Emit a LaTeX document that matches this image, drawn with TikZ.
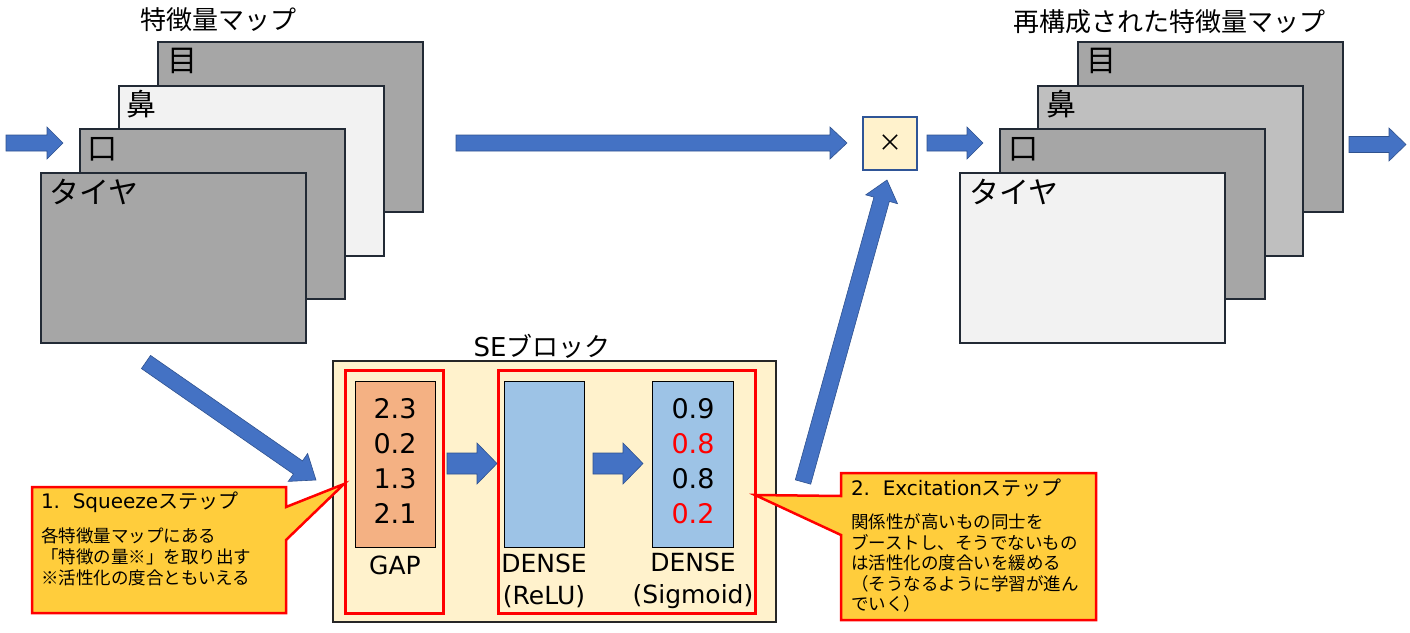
\documentclass[tikz,border=0pt]{standalone}
\usepackage{fontspec}
\setmainfont{Noto Sans CJK JP}
\newfontfamily\lat{DejaVu Sans}
\usetikzlibrary{calc}
\definecolor{arrowblue}{HTML}{4472C4}
\definecolor{arrowedge}{HTML}{2F528F}
\definecolor{mapgray}{HTML}{A6A6A6}
\definecolor{maplight}{HTML}{F2F2F2}
\definecolor{mapmid}{HTML}{BFBFBF}
\definecolor{mapborder}{HTML}{222A35}
\definecolor{cream}{HTML}{FFF2CC}
\definecolor{gapfill}{HTML}{F4B183}
\definecolor{densefill}{HTML}{9DC3E6}
\definecolor{calloutfill}{HTML}{FFCD3C}
\definecolor{xborder}{HTML}{2F5597}
\definecolor{redline}{HTML}{FF0000}
\newcommand{\barrow}[5]{%
  \coordinate (bahead) at ($(#2)!#5!(#1)$);
  \filldraw[blockarrow] ($(#1)!#3!90:(#2)$) -- ($(bahead)!#3!90:(#2)$) -- ($(bahead)!#4!90:(#2)$) -- (#2) -- ($(bahead)!#4!-90:(#2)$) -- ($(bahead)!#3!-90:(#2)$) -- ($(#1)!#3!-90:(#2)$) -- cycle;}
\begin{document}
\begin{tikzpicture}[x=1pt, y=-1pt,
  every node/.style={inner sep=0pt, outer sep=0pt},
  mapbox/.style={draw=mapborder, line width=2pt, anchor=north west, minimum width=265pt, minimum height=170pt},
  maplabel/.style={anchor=west, font=\fontsize{30}{34}\selectfont},
  titletext/.style={font=\fontsize{26}{30}\selectfont},
  sebox/.style={draw=black!85, fill=cream, line width=2pt, anchor=north west},
  redbox/.style={draw=redline, line width=3pt, anchor=north west},
  vecbox/.style={draw=black, line width=0.8pt, anchor=north west, minimum width=80pt, minimum height=166pt},
  numtext/.style={font=\lat\fontsize{27}{35}\selectfont, align=center},
  layertext/.style={font=\lat\fontsize{25}{32}\selectfont, align=center},
  callout/.style={draw=redline, fill=calloutfill, line width=2.5pt, line join=miter},
  ctitle/.style={anchor=west, font=\fontsize{20}{24}\selectfont},
  cbody/.style={anchor=north west, align=left, font=\fontsize{17.5}{21}\selectfont},
  blockarrow/.style={fill=arrowblue, draw=arrowedge, line width=0.6pt}
]
\useasboundingbox (0,0) rectangle (1410,632);

% ---------- left feature maps ----------
\node[titletext] (t1) at (218,20) {特徴量マップ};
\node[mapbox, fill=mapgray]  (lm1) at (158,42) {};
\node[mapbox, fill=maplight] (lm2) at (119,86) {};
\node[mapbox, fill=mapgray]  (lm3) at (80,129) {};
\node[mapbox, fill=mapgray]  (lm4) at (41,173) {};
\node[maplabel] (ll1) at (167,61) {目};
\node[maplabel] (ll2) at (126,104) {鼻};
\node[maplabel] (ll3) at (87,149) {口};
\node[maplabel] (ll4) at (49,192) {タイヤ};

% ---------- right feature maps ----------
\node[titletext] (t2) at (1169,22) {再構成された特徴量マップ};
\node[mapbox, fill=mapgray]  (rm1) at (1078,42) {};
\node[mapbox, fill=mapmid]   (rm2) at (1038,86) {};
\node[mapbox, fill=mapgray]  (rm3) at (1000,129) {};
\node[mapbox, fill=maplight] (rm4) at (960,173) {};
\node[maplabel] (rl1) at (1086,61) {目};
\node[maplabel] (rl2) at (1046,104) {鼻};
\node[maplabel] (rl3) at (1008,149) {口};
\node[maplabel] (rl4) at (969,192) {タイヤ};

% ---------- multiply box ----------
\node[draw=xborder, fill=cream, line width=2pt, minimum width=54pt, minimum height=53pt,
      font=\fontsize{24}{26}\selectfont] (mul) at (890,143.5) {×};

% ---------- SE block ----------
\node[titletext] (setitle) at (542,346) {{\lat SE}ブロック};
\node[sebox, minimum width=443pt, minimum height=261pt] (se) at (333,361) {};
\node[redbox, minimum width=98pt, minimum height=243pt] (rb1) at (345,370) {};
\node[redbox, minimum width=257pt, minimum height=243pt] (rb2) at (498,370) {};
\node[vecbox, fill=gapfill] (gap) at (355,381) {};
\node[vecbox, fill=densefill] (d1) at (504,381) {};
\node[vecbox, fill=densefill, minimum width=81pt] (d2) at (652,381) {};
\node[numtext] (gapnum) at (395,461) {2.3\\0.2\\1.3\\2.1};
\node[numtext] (d2num) at (693,461) {0.9\\\textcolor{redline}{0.8}\\0.8\\\textcolor{redline}{0.2}};
\node[layertext] (gaplab) at (395,565) {GAP};
\node[layertext] (d1lab) at (544,581) {DENSE\\(ReLU)};
\node[layertext] (d2lab) at (693,581) {DENSE\\(Sigmoid)};

% ---------- callouts ----------
\path[callout] (32,487) -- (286,487) -- (286,507) -- (344,484) -- (286,540) -- (286,613) -- (32,613) -- cycle;
\node[ctitle] (c1t) at (41,502) {{\lat 1.\ \ Squeeze}ステップ};
\node[cbody] (c1b) at (41,528) {各特徴量マップにある\\「特徴の量※」を取り出す\\※活性化の度合ともいえる};

\path[callout] (841,473) -- (1096,473) -- (1096,620) -- (841,620) -- (841,535) -- (755,495) -- (841,496) -- cycle;
\node[ctitle] (c2t) at (851,488) {{\lat 2.\ \ Excitation}ステップ};
\node[cbody, font=\fontsize{17.5}{20.5}\selectfont] (c2b) at (851,514) {関係性が高いもの同士を\\ブーストし、そうでないもの\\は活性化の度合いを緩める\\（そうなるように学習が進ん\\でいく）};

% ---------- block arrows ----------
\coordinate (inA) at (6,143);   \coordinate (inB) at (63,143);
\coordinate (lgA) at (456,143); \coordinate (lgB) at (847,143);
\coordinate (moA) at (927,143); \coordinate (moB) at (983,143);
\coordinate (otA) at (1349,144.5); \coordinate (otB) at (1406,144.5);
\coordinate (s1A) at (447,463.5); \coordinate (s1B) at (497,463.5);
\coordinate (s2A) at (593,463.5); \coordinate (s2B) at (643,463.5);
\coordinate (dgA) at (146,362); \coordinate (dgB) at (316,480);
\coordinate (upA) at (803,482); \coordinate (upB) at (887,180);
\barrow{inA}{inB}{8pt}{16pt}{16pt}
\barrow{lgA}{lgB}{8pt}{16pt}{17pt}
\barrow{moA}{moB}{8pt}{16pt}{16pt}
\barrow{otA}{otB}{8pt}{16.5pt}{17pt}
\barrow{s1A}{s1B}{10.5pt}{20.5pt}{20pt}
\barrow{s2A}{s2B}{10.5pt}{20.5pt}{20pt}
\barrow{dgA}{dgB}{8pt}{17pt}{22pt}
\barrow{upA}{upB}{8pt}{16.5pt}{20pt}
\end{tikzpicture}
\end{document}
